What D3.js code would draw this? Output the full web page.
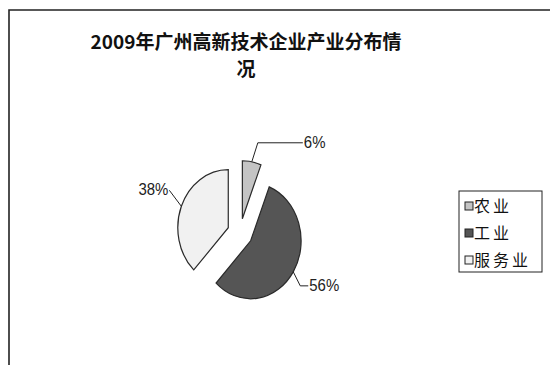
<!DOCTYPE html>
<html>
<head>
<meta charset="utf-8">
<script src="https://cdn.jsdelivr.net/npm/d3@7/dist/d3.min.js"></script>
<style>
  html, body { margin: 0; padding: 0; background: #fff; }
  svg { display: block; }
</style>
</head>
<body>
<svg id="chart" width="550" height="365"></svg>
<script>
// Chart data
const titleLines = ["2009年广州高新技术企业产业分布情", "况"];
const categories = ["农业", "工业", "服务业"];
const shares = [6, 56, 38];
const sliceColors = ["#c4c4c4", "#555555", "#f1f1f1"];

const svg = d3.select("#chart");

// Chart frame (top and left edges)
svg.append("path")
  .attr("d", "M9,365 L9,10 L550,10")
  .attr("fill", "none")
  .attr("stroke", "#222")
  .attr("stroke-width", 1.6);

// Title, two lines
const title = svg.append("text")
  .attr("text-anchor", "middle")
  .attr("font-family", "'Noto Sans CJK SC', sans-serif")
  .attr("font-weight", "bold")
  .attr("font-size", 19)
  .attr("fill", "#111");
titleLines.forEach((t, i) => {
  title.append("tspan").attr("x", 246).attr("y", 49 + i * 27).text(t);
});

// Pie layout: clockwise from 12 o'clock, slices exploded outward
const cx = 240, cy = 233, radius = 58, sx = 0.87, explode = 14.5;
const pie = d3.pie().sort(null).value(d => d);
const arcs = pie(shares);
const arc = d3.arc().innerRadius(0).outerRadius(radius);

function offsetOf(a) {
  const m = (a.startAngle + a.endAngle) / 2;
  return [explode * Math.sin(m), -explode * Math.cos(m)];
}
// screen point on a slice at angle ang and distance r from its (exploded) apex
function pointOf(a, ang, r) {
  const [ox, oy] = offsetOf(a);
  return [cx + sx * (ox + r * Math.sin(ang)), cy + oy - r * Math.cos(ang)];
}

const slices = svg.append("g")
  .attr("transform", `translate(${cx},${cy}) scale(${sx},1)`);
slices.selectAll("path")
  .data(arcs)
  .join("path")
  .attr("transform", d => `translate(${offsetOf(d)})`)
  .attr("d", arc)
  .attr("fill", (d, i) => sliceColors[i])
  .attr("stroke", "#2a2a2a")
  .attr("stroke-width", 1.2)
  .attr("vector-effect", "non-scaling-stroke");

// Percentage labels with leader lines, in the same order as the shares:
// elbow offset from the slice edge, then a horizontal run to the text
const leaders = [
  { elbow: [6, -19], run: 45, anchor: "start" },   // 农业
  { elbow: [7, 14], run: 8, anchor: "start" },     // 工业
  { elbow: [-12, -16], run: 0, anchor: "end" }     // 服务业
];
const labelGroup = svg.append("g");
arcs.forEach((a, i) => {
  const mid = (a.startAngle + a.endAngle) / 2;
  const p0 = pointOf(a, mid, radius);
  const L = leaders[i];
  const p1 = [p0[0] + L.elbow[0], p0[1] + L.elbow[1]];
  const dir = L.anchor === "start" ? 1 : -1;
  const p2 = [p1[0] + dir * L.run, p1[1]];
  labelGroup.append("path")
    .attr("d", d3.line()([p0, p1, p2]))
    .attr("fill", "none")
    .attr("stroke", "#222")
    .attr("stroke-width", 1);
  const tx = p2[0] + dir * 1;
  labelGroup.append("text")
    .attr("transform", `translate(${tx},${p2[1] + 5}) scale(0.88,1)`)
    .attr("text-anchor", L.anchor)
    .attr("font-family", "'Liberation Sans', Arial, sans-serif")
    .attr("font-size", 17)
    .attr("fill", "#222")
    .text(a.data + "%");
});

// Legend
const legend = svg.append("g").attr("transform", "translate(459,191)");
legend.append("rect")
  .attr("width", 83).attr("height", 81)
  .attr("fill", "#fff")
  .attr("stroke", "#222")
  .attr("stroke-width", 1);
const rows = legend.selectAll("g.row")
  .data(categories)
  .join("g")
  .attr("class", "row")
  .attr("transform", (d, i) => `translate(6,${15 + i * 27})`);
rows.append("rect")
  .attr("x", 0).attr("y", -4)
  .attr("width", 8).attr("height", 8)
  .attr("fill", (d, i) => sliceColors[i])
  .attr("stroke", "#222")
  .attr("stroke-width", 1);
rows.append("text")
  .attr("x", 9).attr("y", 6)
  .attr("font-family", "'Noto Sans CJK SC', sans-serif")
  .attr("font-size", 16)
  .attr("letter-spacing", 3)
  .attr("fill", "#111")
  .text(d => d);
</script>
</body>
</html>
